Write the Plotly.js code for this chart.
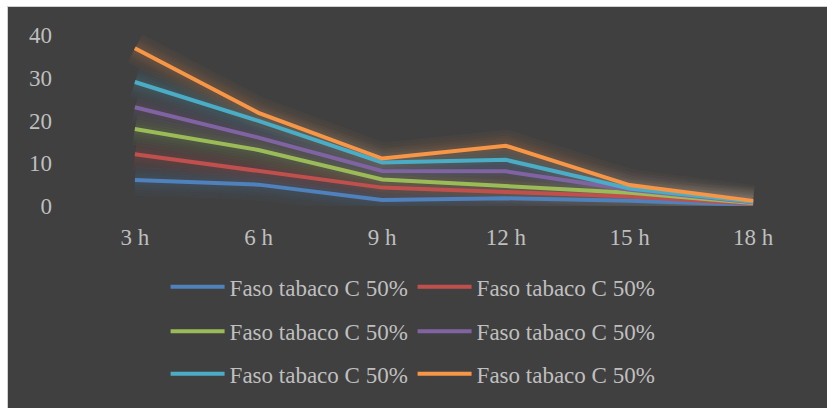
<!DOCTYPE html>
<html>
<head>
<meta charset="utf-8">
<script src="https://cdn.plot.ly/plotly-3.0.1.min.js"></script>
<style>
  html, body { margin: 0; padding: 0; background: #ffffff; overflow: hidden; }
  #frame {
    position: absolute; left: 7px; top: 6px;
    border-left: 1px solid #cfcfcf; border-top: 1px solid #cfcfcf;
    background: #404040;
  }
</style>
</head>
<body>
<div id="frame"><div id="chart"></div></div>
<script>
// Sampling times
var hours = ['3 h', '6 h', '9 h', '12 h', '15 h', '18 h'];

// Series values (one per line, all labelled the same)
var seriesBlue   = [6.1, 5.0, 1.4, 1.8, 1.2, 0.3];
var seriesRed    = [12.1, 8.3, 4.3, 3.3, 2.2, 0.5];
var seriesGreen  = [18.0, 13.1, 6.2, 4.6, 3.1, 0.7];
var seriesPurple = [23.1, 16.0, 8.2, 8.1, 3.8, 0.9];
var seriesCyan   = [29.0, 19.9, 10.2, 10.8, 4.1, 1.0];
var seriesOrange = [36.9, 21.8, 11.1, 14.1, 4.9, 1.2];

var seriesName = 'Faso tabaco C 50%';
var series = [seriesBlue, seriesRed, seriesGreen, seriesPurple, seriesCyan, seriesOrange];
var colors = ['79,129,189', '192,80,77', '155,187,89', '128,100,162', '75,172,198', '247,150,70'];
var legendIds = ['legend', 'legend', 'legend2', 'legend2', 'legend3', 'legend3'];

var traces = [];

// soft halo under every line, built from wide translucent strokes
var halo = [[32, 0.03], [26, 0.035], [20, 0.04], [15, 0.045], [10, 0.05]];
series.forEach(function (vals, i) {
  halo.forEach(function (h) {
    traces.push({
      x: hours, y: vals, type: 'scatter', mode: 'lines',
      line: { color: 'rgba(' + colors[i] + ',' + h[1] + ')', width: h[0] },
      hoverinfo: 'skip', showlegend: false
    });
  });
});

series.forEach(function (vals, i) {
  traces.push({
    x: hours, y: vals, type: 'scatter', mode: 'lines',
    name: seriesName,
    legend: legendIds[i],
    line: { color: 'rgb(' + colors[i] + ')', width: 4 }
  });
});

var W = 819, H = 401;
var textFont = { family: 'Liberation Serif, Times New Roman, serif', size: 23, color: '#bfbfbf' };

function legendAt(y) {
  return {
    orientation: 'h', xref: 'container', yref: 'container',
    x: 0.494, xanchor: 'center', y: y, yanchor: 'middle',
    bgcolor: 'rgba(0,0,0,0)', font: textFont,
    itemwidth: 54, entrywidth: 178, entrywidthmode: 'pixels'
  };
}

var layout = {
  width: W, height: H,
  margin: { l: 65, r: 12, t: 28, b: 202 },
  paper_bgcolor: '#404040', plot_bgcolor: '#404040',
  font: textFont,
  xaxis: {
    type: 'category', range: [-0.5, 5.5],
    showgrid: false, zeroline: false, showline: false, ticks: '',
    ticklabelstandoff: 15, tickfont: textFont, fixedrange: true
  },
  yaxis: {
    range: [0, 40], tickvals: [0, 10, 20, 30, 40],
    showgrid: false, zeroline: false, showline: false, ticks: '',
    ticklabelstandoff: 20, tickfont: textFont, fixedrange: true
  },
  legend: legendAt(0.302),
  legend2: legendAt(0.191),
  legend3: legendAt(0.085)
};

var frame = document.getElementById('frame');
frame.style.width = W + 'px';
frame.style.height = H + 'px';

Plotly.newPlot('chart', traces, layout, { displayModeBar: false, staticPlot: true });
</script>
</body>
</html>
